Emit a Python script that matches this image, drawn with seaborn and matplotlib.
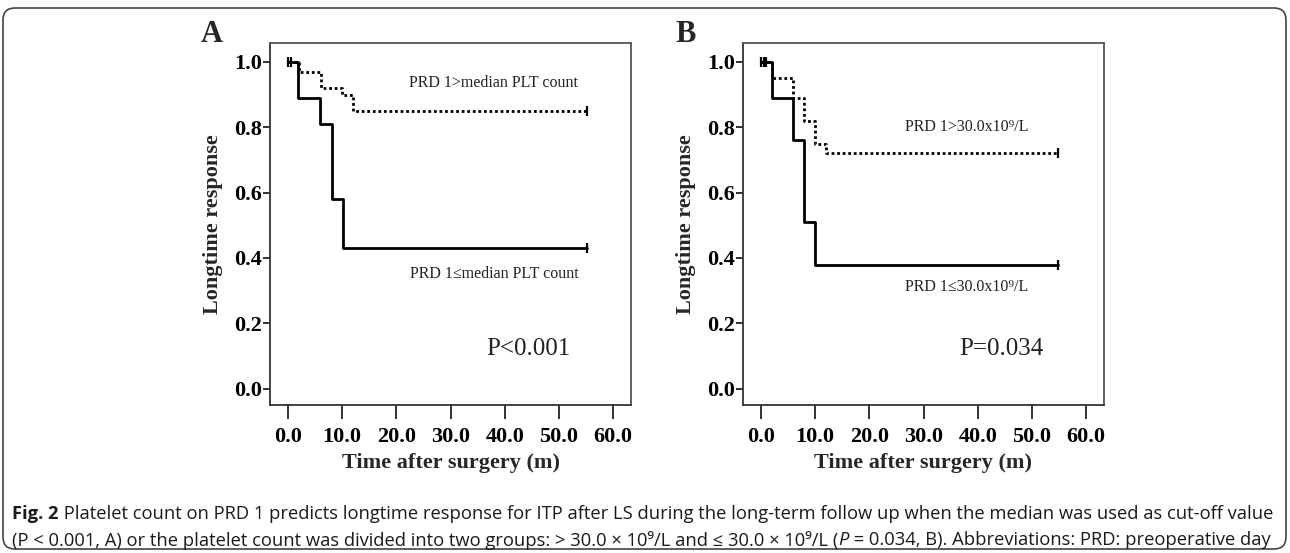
import matplotlib
matplotlib.use("Agg")
import pandas as pd
import seaborn as sns
import matplotlib.pyplot as plt
from matplotlib.patches import FancyBboxPatch

# Panel A: PRD 1 platelet count split at the median
a_low_time = [0, 1.8, 5.9, 8.1, 10.1, 55.1]
a_low_surv = [1.0, 0.89, 0.81, 0.58, 0.43, 0.43]
a_high_time = [0, 2.0, 6.1, 10.0, 12.0, 55.1]
a_high_surv = [1.0, 0.97, 0.92, 0.90, 0.85, 0.85]
a_cens_time = [0.1, 0.6, 55.1, 55.1]
a_cens_surv = [1.0, 1.0, 0.43, 0.85]

# Panel B: PRD 1 platelet count split at 30.0x10^9/L
b_low_time = [0, 2.0, 5.9, 8.0, 10.0, 54.8]
b_low_surv = [1.0, 0.89, 0.76, 0.51, 0.38, 0.38]
b_high_time = [0, 2.0, 5.9, 8.0, 10.0, 12.0, 54.8]
b_high_surv = [1.0, 0.95, 0.89, 0.82, 0.75, 0.72, 0.72]
b_cens_time = [0.0, 0.5, 1.0, 54.8, 54.8]
b_cens_surv = [1.0, 1.0, 1.0, 0.38, 0.72]

x_ticks = [0, 10, 20, 30, 40, 50, 60]
y_ticks = [0.0, 0.2, 0.4, 0.6, 0.8, 1.0]

panels = [
    {"tag": "A", "low": (a_low_time, a_low_surv), "high": (a_high_time, a_high_surv),
     "cens": (a_cens_time, a_cens_surv),
     "high_lab": "PRD 1>median PLT count", "low_lab": "PRD 1\u2264median PLT count",
     "high_lab_y": 0.935, "low_lab_y": 0.35, "p": "P<0.001"},
    {"tag": "B", "low": (b_low_time, b_low_surv), "high": (b_high_time, b_high_surv),
     "cens": (b_cens_time, b_cens_surv),
     "high_lab": "PRD 1>30.0x10\u2079/L", "low_lab": "PRD 1\u226430.0x10\u2079/L",
     "high_lab_y": 0.80, "low_lab_y": 0.31, "p": "P=0.034"},
]

sns.set_theme(style="white")
plt.rcParams["font.family"] = ["Liberation Serif", "DejaVu Serif"]

W, H = 1290, 553
fig = plt.figure(figsize=(W / 100, H / 100), dpi=100)

axes_px = [(270, 631), (743, 1104)]
top_px, bot_px = 43, 405

for (left, right), p in zip(axes_px, panels):
    ax = fig.add_axes([left / W, 1 - bot_px / H, (right - left) / W, (bot_px - top_px) / H])
    low = pd.DataFrame({"time": p["low"][0], "surv": p["low"][1]})
    high = pd.DataFrame({"time": p["high"][0], "surv": p["high"][1]})
    sns.lineplot(data=low, x="time", y="surv", ax=ax, estimator=None, sort=False,
                 drawstyle="steps-post", color="black", linewidth=2.0)
    sns.lineplot(data=high, x="time", y="surv", ax=ax, estimator=None, sort=False,
                 drawstyle="steps-post", color="black", linewidth=2.0,
                 linestyle=(0, (1, 1.0)))
    cens = pd.DataFrame({"time": p["cens"][0], "surv": p["cens"][1]})
    sns.scatterplot(data=cens, x="time", y="surv", ax=ax, marker="|", s=55,
                    color="black", linewidth=1.6)

    ax.set_xlim(-3.3, 63.3)
    ax.set_ylim(-0.05, 1.058)
    ax.set_xticks(x_ticks)
    ax.set_xticklabels([f"{v:.1f}" for v in x_ticks])
    ax.set_yticks(y_ticks)
    ax.set_yticklabels([f"{v:.1f}" for v in y_ticks])
    ax.tick_params(axis="x", direction="out", length=10, width=1.3, colors="#222222",
                   labelsize=16, pad=6, bottom=True)
    ax.tick_params(axis="y", direction="out", length=5, width=1.3, colors="#222222",
                   labelsize=16, pad=1, left=True)
    for lab in ax.get_xticklabels() + ax.get_yticklabels():
        lab.set_fontweight("bold")
        lab.set_color("black")
    for s in ax.spines.values():
        s.set_visible(True)
        s.set_color("#555555")
        s.set_linewidth(1.3)
    ax.spines["left"].set_color("#333333")
    ax.spines["bottom"].set_color("#333333")

    ax.set_xlabel("Time after surgery (m)", fontsize=16, fontweight="bold", labelpad=4)
    ax.set_ylabel("Longtime response", fontsize=16, fontweight="bold", labelpad=8)

    ax.text(38.0, p["high_lab_y"], p["high_lab"], fontsize=11.5, ha="center", va="center",
            color="#222222")
    ax.text(38.0, p["low_lab_y"], p["low_lab"], fontsize=11.5, ha="center", va="center",
            color="#222222")
    ax.text(36.5, 0.12, p["p"], fontsize=18, ha="left", va="center", color="#222222")

fig.text(212 / W, 1 - 35 / H, "A", fontsize=22, fontweight="bold", ha="center", va="center")
fig.text(686 / W, 1 - 35 / H, "B", fontsize=22, fontweight="bold", ha="center", va="center")

# rounded frame around the whole figure
frame = FancyBboxPatch((3, 4), W - 7, H - 12, boxstyle="round,pad=0,rounding_size=12",
                       transform=None, fill=False, edgecolor="#444444", linewidth=1.2)
fig.patches.append(frame)

# caption, drawn piece by piece so bold / italic runs line up
renderer = fig.canvas.get_renderer()
cap_fam = ["Open Sans", "DejaVu Sans"]
cap_lines = [
    [("Fig. 2", "bold", "normal"),
     (" Platelet count on PRD 1 predicts longtime response for ITP after LS during the long-term "
      "follow up when the median was used as cut-off value", "normal", "normal")],
    [("(P < 0.001, A) or the platelet count was divided into two groups: > 30.0 \u00d7 10\u2079/L "
      "and \u2264 30.0 \u00d7 10\u2079/L (", "normal", "normal"),
     ("P", "normal", "italic"),
     (" = 0.034, B). Abbreviations: PRD: preoperative day", "normal", "normal")],
]
cap_size = 13.2
cap_y = [1 - 514 / H, 1 - 540 / H]
for line, yy in zip(cap_lines, cap_y):
    x = 12
    for txt, wt, st in line:
        t = fig.text(x / W, yy, txt, fontsize=cap_size, fontweight=wt, fontstyle=st,
                     family=cap_fam, color="#1a1a1a", ha="left", va="center")
        x += t.get_window_extent(renderer).width

fig.savefig("out.png", dpi=100)
